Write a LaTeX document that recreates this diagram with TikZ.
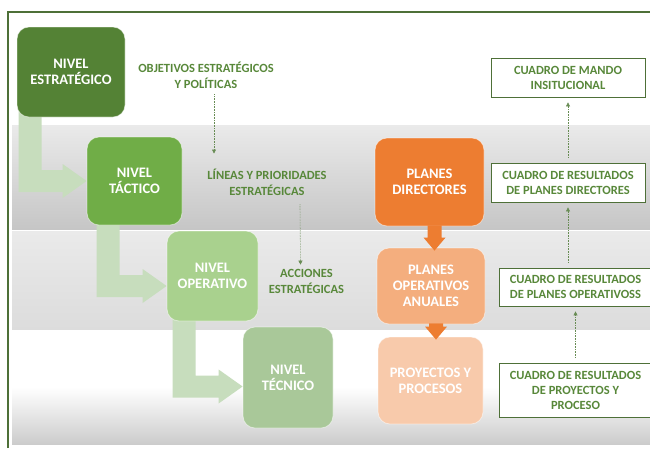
\documentclass[tikz,border=0pt]{standalone}
\usepackage{fontspec}
\setmainfont{Carlito}
\usepackage{tikz}
\usetikzlibrary{arrows.meta}
\usetikzlibrary{calc}
\usetikzlibrary{backgrounds}
\definecolor{framegreen}{RGB}{78,112,56}
\definecolor{labelgreen}{RGB}{88,136,58}
\definecolor{dotgreen}{RGB}{104,140,84}
\definecolor{strategic}{RGB}{84,130,53}
\definecolor{tactical}{RGB}{112,173,71}
\definecolor{operative}{RGB}{169,209,142}
\definecolor{technical}{RGB}{169,200,153}
\definecolor{flowgreen}{RGB}{199,221,189}
\definecolor{plandark}{RGB}{237,125,49}
\definecolor{planmid}{RGB}{244,174,126}
\definecolor{planlight}{RGB}{248,202,171}
\definecolor{bandlight}{RGB}{234,234,234}
\definecolor{banddark}{RGB}{198,198,198}
\definecolor{bandmid}{RGB}{220,220,220}
\definecolor{bandlow}{RGB}{204,204,204}
\tikzstyle{level} = [rounded corners=12pt,inner sep=0pt,align=center,text=white,draw=white,draw opacity=0.5,line width=0.8pt,font=\bfseries\fontsize{14.5}{16}\selectfont]
\tikzstyle{note} = [inner sep=0pt,align=center,text=labelgreen,font=\bfseries\fontsize{12.5}{16}\selectfont]
\tikzstyle{panel} = [draw=framegreen,fill=white,line width=0.8pt,inner sep=0pt,align=center,text=labelgreen,font=\bfseries\fontsize{12.5}{15}\selectfont]
\tikzstyle{trace} = [->,densely dotted,draw=dotgreen,line width=0.6pt]
\tikzstyle{flow} = [fill=flowgreen]
\tikzstyle{drop} = [fill=plandark]

\begin{document}
\begin{tikzpicture}[x=1pt,y=-1pt,>={Triangle[length=4pt,width=4pt]}]
    \useasboundingbox (0,0) rectangle (650,448);

      % levels
      \node[level,fill=strategic,minimum width=108pt,minimum height=90pt] (estr) at (71,72)    {NIVEL\\ESTRATÉGICO};
      \node[level,fill=tactical,minimum width=95pt,minimum height=88pt]   (tact) at (134.5,181) {NIVEL\\TÁCTICO};
      \node[level,fill=operative,minimum width=91pt,minimum height=90pt]  (oper) at (212.5,276) {NIVEL\\OPERATIVO};
      \node[level,fill=technical,minimum width=90pt,minimum height=101pt] (tecn) at (288,377.5)  {NIVEL\\TÉCNICO};

      % plans
      \node[level,fill=plandark,minimum width=109pt,minimum height=88pt]  (pd)  at (429.5,182) {PLANES\\DIRECTORES};
      \node[level,fill=planmid,minimum width=108pt,minimum height=76pt]   (poa) at (431,286)   {PLANES\\OPERATIVOS\\ANUALES};
      \node[level,fill=planlight,minimum width=105pt,minimum height=87pt] (pyp) at (430.5,380.5) {PROYECTOS Y\\PROCESOS};

      % notes
      \node[note] (obj) at (206,75)    {OBJETIVOS ESTRATÉGICOS\\Y POLÍTICAS};
      \node[note] (lin) at (267,182)   {LÍNEAS Y PRIORIDADES\\ESTRATÉGICAS};
      \node[note] (acc) at (306.5,281) {ACCIONES\\ESTRATÉGICAS};

      % panels
      \node[panel,minimum width=154pt,minimum height=39pt] (cmi)  at (568,77.5)  {CUADRO DE MANDO\\INSITUCIONAL};
      \node[panel,minimum width=154pt,minimum height=39pt] (crpd) at (568,182.5) {CUADRO DE RESULTADOS\\DE PLANES DIRECTORES};
      \node[panel,minimum width=153pt,minimum height=38pt] (crpo) at (575.5,287) {CUADRO DE RESULTADOS\\DE PLANES OPERATIVOSS};
      \node[panel,minimum width=153pt,minimum height=54pt] (crpp) at (575.5,390) {CUADRO DE RESULTADOS\\DE PROYECTOS Y\\PROCESO};

      \draw[trace] ([xshift=8pt,yshift=-6pt]obj.south) -- ([xshift=-53pt,yshift=15pt]lin.north);
      \draw[trace] ([xshift=33pt,yshift=-9pt]lin.south) -- ([xshift=-6pt,yshift=4pt]acc.north);

      \foreach \a/\b in {crpd/cmi,crpo/crpd,crpp/crpo} {
        \draw[trace,shorten <=5pt,shorten >=5pt] (\a.north -| \b) -- (\b.south);
      }

      \foreach \a/\b in {pd/poa,poa/pyp} {
        \fill[drop] ($(\a.south)+(-2,-1)$) -- ($(\a.south |- \b.north)+(-2,-10)$) -- ++(-4,0)
          -- ($(\a.south |- \b.north)+(5,3)$) -- ($(\a.south |- \b.north)+(16,-10)$) -- ++(-4,0)
          -- ($(\a.south)+(12,-1)$) -- cycle;
      }

      \begin{scope}[on background layer]
        \shade[top color=bandlight,bottom color=banddark] (12,125) rectangle (650,229);
        \shade[top color=bandlight,bottom color=bandmid] (12,231) rectangle (650,330);
        \shade[top color=white,bottom color=bandlow,middle color=white] (12,330) rectangle (650,444);

        \foreach \a/\b/\dx/\dy in {estr/tact/2/0,tact/oper/10/10,oper/tecn/6/9} {
          \coordinate (t) at ($(\b.west)+(0,\dy)$);
          \fill[flow] ($(\a.south west)+(\dx,-10)$) -- ($(\a.south west |- t)+(\dx,11)$)
            -- ($(t)+(-24,11)$) -- ($(t)+(-24,17)$) -- (t) -- ($(t)+(-24,-17)$) -- ($(t)+(-24,-11)$)
            -- ($(\a.south west |- t)+(\dx+23,-11)$) -- ($(\a.south west)+(\dx+23,-10)$) -- cycle;
        }
      \end{scope}

      \draw[framegreen,line width=1.2pt] (8,448) -- (8,12) -- (650,12);
    \end{tikzpicture}
\end{document}
